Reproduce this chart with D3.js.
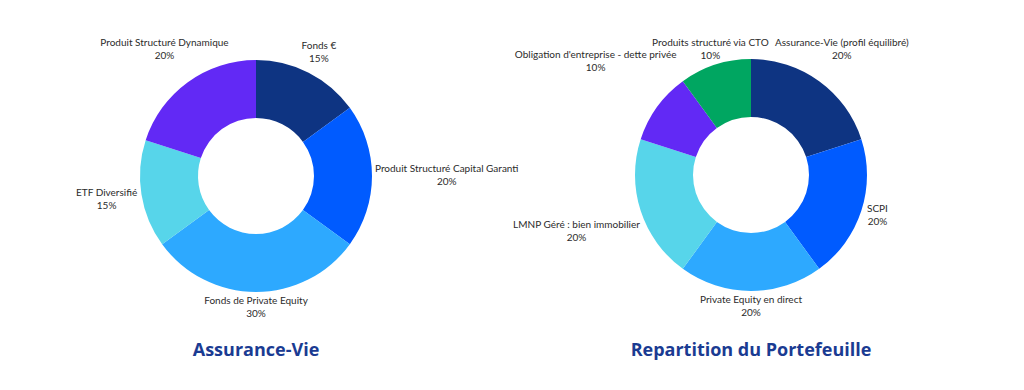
<!DOCTYPE html>
<meta charset="utf-8">
<style>
body { margin: 0; background: #fff; }
.label { font-family: Lato, sans-serif; font-size: 10px; fill: #2b2b2b; }
.title { font-family: "Open Sans", sans-serif; font-size: 18px; font-weight: 700; fill: #1a3b92; }
</style>
<svg width="1024" height="390"></svg>
<script src="https://cdnjs.cloudflare.com/ajax/libs/d3/7.8.5/d3.min.js"></script>
<script>

// left donut
var avLabels = ["Fonds €", "Produit Structuré Capital Garanti", "Fonds de Private Equity", "ETF Diversifié", "Produit Structuré Dynamique"];
var avValues = [15, 20, 30, 15, 20];
var avColors = ["#0e3482", "#005bff", "#2da9ff", "#57d5ea", "#6229f5"];

// right donut
var pfLabels = ["Assurance-Vie (profil équilibré)", "SCPI", "Private Equity en direct", "LMNP Géré : bien immobilier", "Obligation d'entreprise - dette privée", "Produits structuré via CTO"];
var pfValues = [20, 20, 20, 20, 10, 10];
var pfColors = ["#0e3482", "#005bff", "#2da9ff", "#57d5ea", "#6229f5", "#00a661"];

var titles = ["Assurance-Vie", "Repartition du Portefeuille"];

var svg = d3.select("svg");

var outer = 116, inner = 58,
    topY = 37; // labels may not go above this line

var pie = d3.pie().sort(null).value(function(d) { return d.value; });
var arc = d3.arc().innerRadius(inner).outerRadius(outer);

drawDonut(256, 176, avLabels, avValues, avColors, titles[0]);
drawDonut(751, 175, pfLabels, pfValues, pfColors, titles[1]);

function drawDonut(cx, cy, labels, values, colors, title) {
  var data = labels.map(function(l, i) { return {label: l, value: values[i], color: colors[i]}; });
  var total = d3.sum(values);
  var g = svg.append("g").attr("transform", "translate(" + cx + "," + cy + ")");

  g.selectAll("path")
    .data(pie(data))
    .enter().append("path")
      .attr("d", arc)
      .attr("fill", function(d) { return d.data.color; });

  var lab = g.selectAll(".lab")
    .data(pie(data))
    .enter().append("text")
      .attr("class", "label")
      .attr("text-anchor", "middle");

  lab.append("tspan").attr("x", 0).attr("dy", 0).text(function(d) { return d.data.label; });
  lab.append("tspan").attr("x", 0).attr("dy", 13).text(function(d) { return Math.round(d.data.value / total * 100) + "%"; });

  // push each label box out along the mid angle until it clears the ring,
  // pulled back in along the same ray if it would go past the top line
  lab.each(function(d) {
    var a = (d.startAngle + d.endAngle) / 2,
        s = Math.sin(a), c = Math.cos(a),
        w = this.getBBox().width, h = 26;
    var dist = outer + 3 + Math.abs(s) * w / 2 + Math.abs(c) * h / 2;
    if (c > 0 && cy - c * dist - h / 2 < topY) dist = (cy - topY - h / 2) / c;
    var x = s * dist, y = -c * dist;
    d3.select(this).attr("transform", "translate(" + x + "," + (y - h / 2 + 9) + ")");
  });

  svg.append("text")
      .attr("class", "title")
      .attr("x", cx)
      .attr("y", 356)
      .attr("text-anchor", "middle")
      .text(title);
}

</script>
